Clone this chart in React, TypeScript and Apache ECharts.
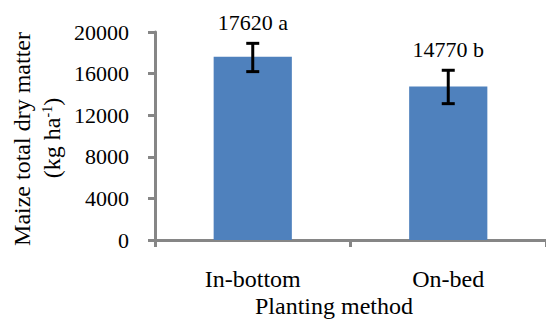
import React, { useEffect, useRef } from "react";
import * as echarts from "echarts";

const categories = ["In-bottom", "On-bed"];
const values = [17620, 14770];
const errLow = [16190, 13110];
const errHigh = [18910, 16320];
const barLabels = ["17620 a", "14770 b"];
const yTicks = { min: 0, max: 20000, interval: 4000 };

const FONT = "Liberation Serif";

export default function App() {
  const ref = useRef<HTMLDivElement>(null);
  useEffect(() => {
    const chart = echarts.init(ref.current!, null, { renderer: "svg" });
    const errData = categories.map((_, i) => [i, errLow[i], errHigh[i]]);
    chart.setOption({
      animation: false,
      grid: { left: 155, right: -2, top: 32, bottom: 82 },
      xAxis: {
        type: "category",
        data: categories,
        axisLine: { lineStyle: { color: "#868686", width: 3 } },
        axisTick: { show: true, length: 7, lineStyle: { color: "#868686", width: 3 } },
        axisLabel: { color: "#000", fontFamily: FONT, fontSize: 24, margin: 27 },
      },
      yAxis: {
        type: "value",
        min: yTicks.min,
        max: yTicks.max,
        interval: yTicks.interval,
        splitLine: { show: false },
        axisLine: { show: true, lineStyle: { color: "#868686", width: 3 } },
        axisTick: { show: true, length: 7, lineStyle: { color: "#868686", width: 3 } },
        axisLabel: {
          color: "#000",
          fontFamily: FONT,
          fontSize: 22,
          margin: 26,
          formatter: (v: number) => String(v),
        },
      },
      series: [
        {
          type: "bar",
          data: values,
          barWidth: "40%",
          itemStyle: { color: "#4F81BD" },
        },
        {
          type: "custom",
          data: errData,
          z: 5,
          renderItem: (params: any, api: any) => {
            const idx = api.value(0);
            const lo = api.coord([idx, api.value(1)]);
            const hi = api.coord([idx, api.value(2)]);
            const x = lo[0];
            const cap = 6.5;
            const ls = { stroke: "#000", lineWidth: 3 };
            return {
              type: "group",
              children: [
                { type: "line", shape: { x1: x, y1: lo[1], x2: x, y2: hi[1] }, style: ls },
                { type: "line", shape: { x1: x - cap, y1: lo[1], x2: x + cap, y2: lo[1] }, style: ls },
                { type: "line", shape: { x1: x - cap, y1: hi[1], x2: x + cap, y2: hi[1] }, style: ls },
                {
                  type: "text",
                  x: x,
                  y: hi[1] - 10,
                  style: {
                    text: barLabels[params.dataIndex],
                    fill: "#000",
                    font: `22px "${FONT}"`,
                    align: "center",
                    verticalAlign: "bottom",
                  },
                },
              ],
            };
          },
        },
      ],
      graphic: [
        {
          type: "text",
          x: 22,
          y: 139,
          rotation: Math.PI / 2,
          style: {
            text: "Maize total dry matter",
            fill: "#000",
            font: `24px "${FONT}"`,
            align: "center",
            verticalAlign: "middle",
          },
        },
        {
          type: "text",
          x: 52,
          y: 138,
          rotation: Math.PI / 2,
          style: {
            text: "{n|(kg ha}{s|-1}{n|)}",
            align: "center",
            verticalAlign: "middle",
            rich: {
              n: { fontFamily: FONT, fontSize: 24, color: "#000" },
              s: { fontFamily: FONT, fontSize: 14, color: "#000", verticalAlign: "top" },
            },
          },
        },
        {
          type: "text",
          x: 334,
          y: 306,
          style: {
            text: "Planting method",
            fill: "#000",
            font: `24px "${FONT}"`,
            align: "center",
            verticalAlign: "middle",
          },
        },
      ],
    });
    return () => chart.dispose();
  }, []);
  return (
    <div
      ref={ref}
      style={{ position: "absolute", left: 0, top: 0, width: 546, height: 322, background: "#fff" }}
    />
  );
}
